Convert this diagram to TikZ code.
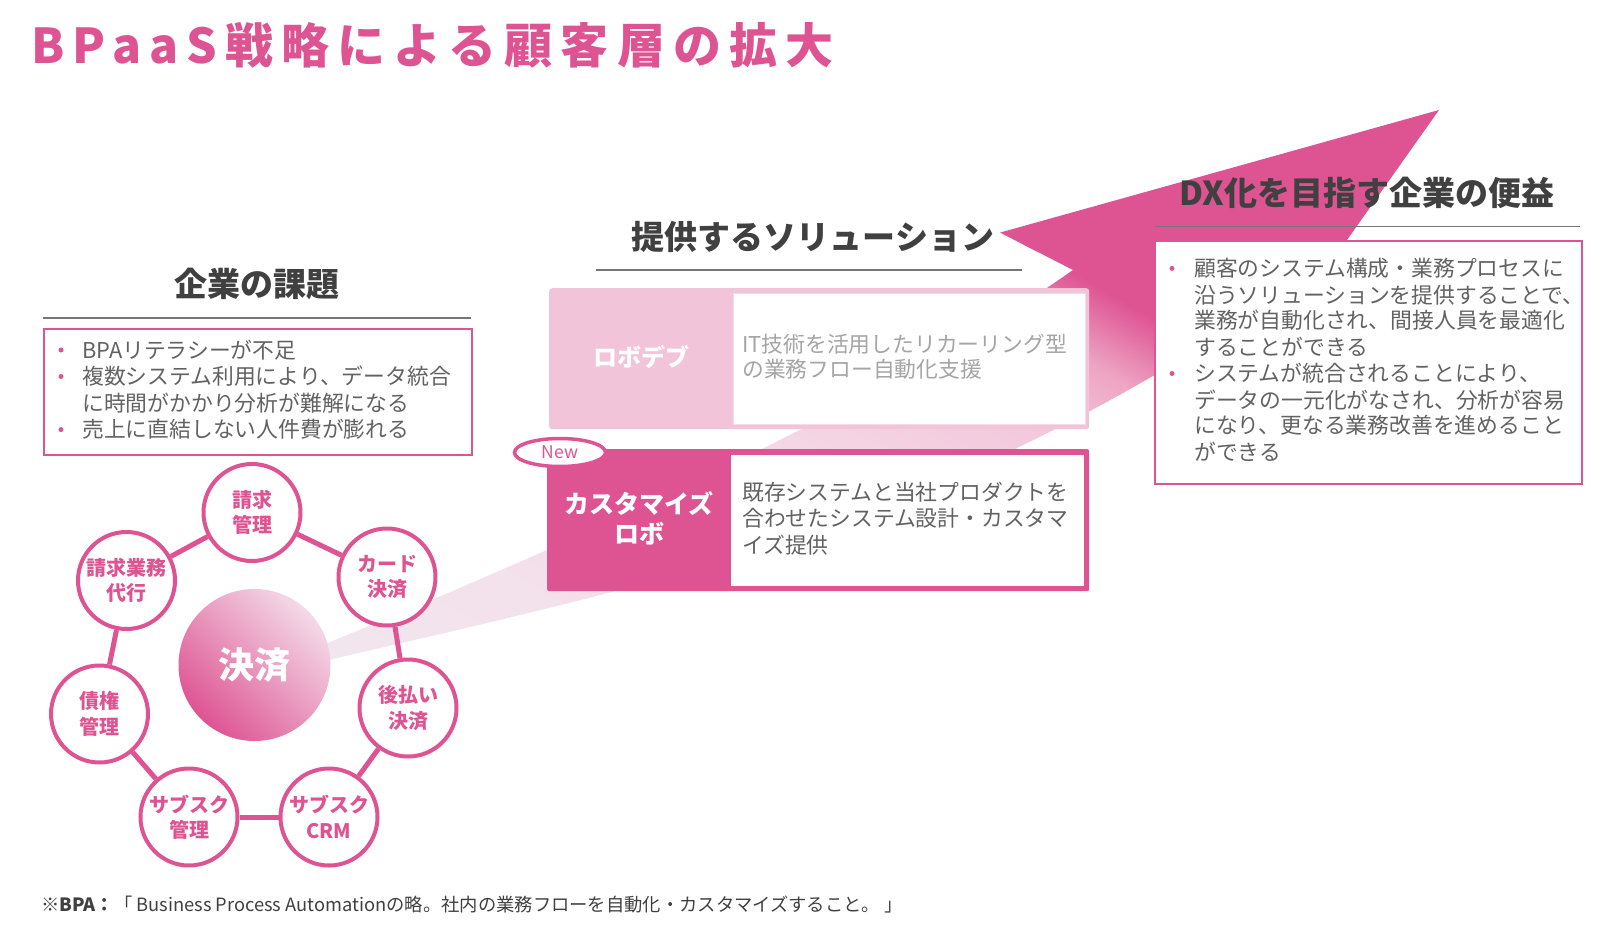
\documentclass[tikz,border=0pt]{standalone}
\usepackage{fontspec}
\usetikzlibrary{shapes.geometric}
\newfontfamily\jp{Noto Sans CJK JP}
\newfontfamily\jpt[LetterSpace=17]{Noto Sans CJK JP}
\definecolor{pk}{RGB}{222,84,147}
\definecolor{lpk}{RGB}{242,196,217}
\definecolor{headc}{RGB}{64,64,64}
\definecolor{bodyc}{RGB}{98,98,98}
\definecolor{lgray}{RGB}{165,165,165}
\definecolor{rulec}{RGB}{118,118,118}
\definecolor{arA}{RGB}{242,230,238}
\definecolor{arB}{RGB}{244,216,229}
\definecolor{arC}{RGB}{243,200,220}
\definecolor{arD}{RGB}{238,165,196}
\definecolor{arE}{RGB}{222,84,147}
\definecolor{cLight}{RGB}{244,218,232}
\definecolor{cMid}{RGB}{228,108,162}
\begin{document}
\begin{tikzpicture}[x=1pt,y=-1pt,
  txt/.style={inner sep=0pt, anchor=base west, text=bodyc, font=\jp\fontsize{21.8}{26}\selectfont},
  ltxt/.style={txt, text=lgray},
  head/.style={inner sep=0pt, anchor=base, text=headc, font=\jp\bfseries\fontsize{33}{36}\selectfont},
  hrule/.style={draw=rulec, line width=1.5pt},
  bul/.style={circle, fill=pk, inner sep=0pt, minimum size=5pt},
  sat/.style={circle, draw=pk, line width=4pt, fill=white, minimum size=97pt, inner sep=0pt, align=center, text=pk, font=\jp\bfseries\fontsize{20}{25.5}\selectfont},
  ring/.style={draw=pk, line width=5pt},
  pbox/.style={draw=pk, line width=1.5pt, fill=white, anchor=north west, inner sep=0pt},
  lab/.style={inner sep=0pt, align=center, text=white, font=\jp\bfseries\fontsize{25}{30}\selectfont}
]
\fill[white] (0,0) rectangle (1600,928);
\useasboundingbox (0,0) rectangle (1600,928);

% ---- big gradient arrow ----
\begin{scope}
\clip (320,646) .. controls (600,533) and (900,392.5) .. (1073,270) -- (1000,232.6) -- (1439,110) -- (1347,240) -- (1290,330) -- (1180,360) .. controls (880,540) and (631,589) .. (320,662) -- cycle;
\begin{scope}[rotate=60]
  \fill[arA] (-800,-200) rectangle (-400,2200);
  \foreach \pA/\pB/\cA/\cB in {-400/0/arA/arB, 0/150/arB/arC, 150/230/arC/arD, 230/300/arD/arE}{
    \foreach \i in {0,...,19}{
      \pgfmathsetmacro\uA{\pA+(\pB-\pA)*\i/20}
      \pgfmathsetmacro\uB{\pA+(\pB-\pA)*(\i+1)/20+0.6}
      \pgfmathsetmacro\pc{\i*5+2.5}
      \fill[color=\cB!\pc!\cA] (\uA,-200) rectangle (\uB,2200);
    }
  }
  \fill[arE] (300,-200) rectangle (1300,2200);
\end{scope}
\end{scope}

% ---- title ----
\node[anchor=base west, inner sep=0pt, text=pk, font=\jpt\bfseries\fontsize{48}{50}\selectfont] (title) at (31,64) {BPaaS戦略による顧客層の拡大};

% ---- headings ----
\node[head] (h1) at (257,296.5) {企業の課題};
\coordinate (h1a) at (43,318); \coordinate (h1b) at (471,318);
\draw[hrule] (h1a) -- (h1b);
\node[head] (h2) at (813,249.5) {提供するソリューション};
\coordinate (h2a) at (596,270); \coordinate (h2b) at (1022,270);
\draw[hrule] (h2a) -- (h2b);
\node[head] (h3) at (1367,205.5) {DX化を目指す企業の便益};
\coordinate (h3a) at (1155,226.5); \coordinate (h3b) at (1580,226.5);
\draw[hrule] (h3a) -- (h3b);

% ---- left box ----
\node[pbox, minimum width=428pt, minimum height=126pt] (kbox) at (43,328) {};
\node[bul] (kb1) at (61,350) {};
\node[txt] (kt1) at (82,358.3) {BPAリテラシーが不足};
\node[bul] (kb2) at (61,376.5) {};
\node[txt] (kt2) at (82,384.8) {複数システム利用により、データ統合};
\node[txt] (kt3) at (82,411.3) {に時間がかかり分析が難解になる};
\node[bul] (kb3) at (61,429.6) {};
\node[txt] (kt4) at (82,437.9) {売上に直結しない人件費が膨れる};

% ---- solution boxes ----
\node[fill=lpk, rounded corners=3pt, anchor=north west, inner sep=0pt, minimum width=540pt, minimum height=141pt] (rb) at (549,288) {};
\node[fill=white, draw=lpk!60, line width=0.6pt, anchor=north west, inner sep=0pt, minimum width=352pt, minimum height=131pt] (rbw) at (733,293) {};
\node[lab, font=\jp\bfseries\fontsize{24}{30}\selectfont] (rbl) at (641,357) {ロボデブ};
\node[ltxt] (rt1) at (742,352.3) {IT技術を活用したリカーリング型};
\node[ltxt] (rt2) at (742,377.8) {の業務フロー自動化支援};

\node[fill=pk, rounded corners=2pt, anchor=north west, inner sep=0pt, minimum width=542pt, minimum height=142pt] (cb) at (547,449) {};
\node[fill=white, anchor=north west, inner sep=0pt, minimum width=353pt, minimum height=131pt] (cbw) at (731,455) {};
\node[lab] (cbl) at (639,518) {カスタマイズ\\ロボ};
\node[txt] (ct1) at (742,500.3) {既存システムと当社プロダクトを};
\node[txt] (ct2) at (742,526.3) {合わせたシステム設計・カスタマ};
\node[txt] (ct3) at (742,553.3) {イズ提供};
\node[ellipse, draw=pk, line width=3.5pt, fill=white, minimum width=91pt, minimum height=28pt, inner sep=0pt, text=pk, font=\jp\fontsize{17.5}{18}\selectfont] (new) at (560,452.5) {New};

% ---- right box ----
\node[pbox, minimum width=427pt, minimum height=243pt] (dbox) at (1154,240) {};
\node[bul] (db1) at (1172,268.4) {};
\node[txt] (dt1) at (1194,276.7) {顧客のシステム構成・業務プロセスに};
\node[txt] (dt2) at (1194,303.2) {沿うソリューションを提供することで、};
\node[txt] (dt3) at (1194,328.7) {業務が自動化され、間接人員を最適化};
\node[txt] (dt4) at (1194,355.3) {することができる};
\node[bul] (db2) at (1172,373.5) {};
\node[txt] (dt5) at (1194,381.8) {システムが統合されることにより、};
\node[txt] (dt6) at (1194,408.3) {データの一元化がなされ、分析が容易};
\node[txt] (dt7) at (1194,433.8) {になり、更なる業務改善を進めること};
\node[txt] (dt8) at (1194,460.3) {ができる};

% ---- circle cluster ----
\node[sat] (s1) at (252,512.5) {請求\\管理};
\node[sat] (s2) at (387,577) {カード\\決済};
\node[sat] (s3) at (408,708) {後払い\\決済};
\node[sat] (s4) at (329,817) {サブスク\\CRM};
\node[sat] (s5) at (189,817) {サブスク\\管理};
\node[sat] (s6) at (99.5,714) {債権\\管理};
\node[sat] (s7) at (126.5,580.5) {請求業務\\代行};
\draw[ring] (s1) -- (s2);
\draw[ring] (s2) -- (s3);
\draw[ring] (s3) -- (s4);
\draw[ring] (s4) -- (s5);
\draw[ring] (s5) -- (s6);
\draw[ring] (s6) -- (s7);
\draw[ring] (s7) -- (s1);
\node[circle, minimum size=152pt, inner sep=0pt, left color=pk, middle color=cMid, right color=cLight, shading angle=135, text=white, font=\jp\bfseries\fontsize{36}{40}\selectfont] (core) at (254.5,665) {決済};

% ---- footnote ----
\node[anchor=base west, inner sep=0pt, text=headc, font=\jp\fontsize{18.3}{20}\selectfont] (foot) at (41,911) {{\bfseries ※BPA：}「 Business Process Automationの略。社内の業務フローを自動化・カスタマイズすること。 」};
\end{tikzpicture}
\end{document}
